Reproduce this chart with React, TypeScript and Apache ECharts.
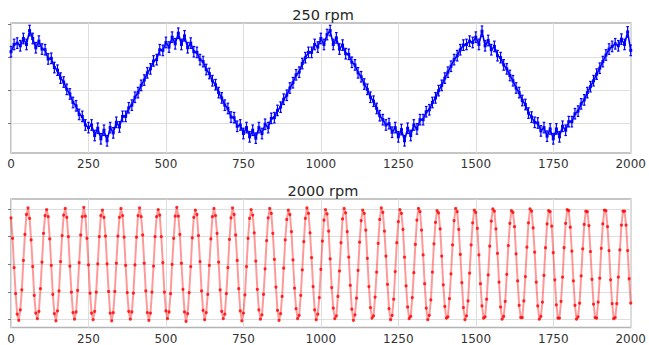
import React, { useEffect, useRef } from "react";
import * as echarts from "echarts";

// ---- data ----
const X_STEP_TOP = 10; // sample spacing (x units) of the 250 rpm trace
const X_STEP_BOTTOM = 5; // sample spacing (x units) of the 2000 rpm trace
const TOP_ERR = 0.08; // half-length of the error bars

const TOP_TITLE = "250 rpm";
const BOTTOM_TITLE = "2000 rpm";
const X_TICKS = [0, 250, 500, 750, 1000, 1250, 1500, 1750, 2000];
const TOP_Y_TICKS = [-0.5, 0, 0.5, 1];
const BOTTOM_Y_TICKS = [-1, -0.5, 0, 0.5, 1];

const TOP_VALUES = [
  0.58, 0.69, 0.71, 0.67, 0.78, 0.69, 0.90, 0.78, 0.64, 0.74,
  0.62, 0.61, 0.47, 0.48, 0.34, 0.30, 0.18, 0.12, 0.01, -0.06,
  -0.19, -0.24, -0.37, -0.40, -0.53, -0.57, -0.53, -0.69, -0.58, -0.74,
  -0.61, -0.77, -0.57, -0.65, -0.49, -0.56, -0.40, -0.40, -0.27, -0.23,
  -0.11, -0.04, 0.07, 0.15, 0.26, 0.32, 0.44, 0.46, 0.61, 0.60,
  0.72, 0.65, 0.80, 0.70, 0.86, 0.69, 0.82, 0.64, 0.71, 0.58,
  0.57, 0.46, 0.43, 0.31, 0.25, 0.14, 0.08, -0.04, -0.12, -0.23,
  -0.28, -0.41, -0.42, -0.55, -0.53, -0.66, -0.57, -0.71, -0.61, -0.73,
  -0.57, -0.66, -0.52, -0.57, -0.43, -0.42, -0.31, -0.26, -0.14, -0.08,
  0.03, 0.11, 0.23, 0.27, 0.40, 0.49, 0.57, 0.57, 0.69, 0.65,
  0.78, 0.69, 0.84, 0.90, 0.69, 0.79, 0.62, 0.68, 0.55, 0.54,
  0.42, 0.38, 0.26, 0.20, 0.09, 0.01, -0.11, -0.17, -0.28, -0.39,
  -0.45, -0.53, -0.51, -0.64, -0.57, -0.71, -0.60, -0.77, -0.58, -0.69,
  -0.53, -0.59, -0.45, -0.45, -0.33, -0.30, -0.19, -0.12, -0.01, 0.07,
  0.18, 0.27, 0.36, 0.46, 0.52, 0.61, 0.68, 0.69, 0.74, 0.72,
  0.80, 0.69, 0.89, 0.67, 0.75, 0.61, 0.66, 0.52, 0.49, 0.38,
  0.32, 0.22, 0.14, 0.03, -0.04, -0.16, -0.22, -0.35, -0.41, -0.49,
  -0.50, -0.62, -0.57, -0.70, -0.59, -0.74, -0.59, -0.71, -0.55, -0.61,
  -0.48, -0.48, -0.36, -0.32, -0.21, -0.15, -0.04, 0.05, 0.14, 0.24,
  0.33, 0.43, 0.53, 0.62, 0.66, 0.70, 0.67, 0.77, 0.69, 0.88,
  0.60,
];

const BOTTOM_VALUES = [
  0.84, 0.47, -0.06, -0.53, -0.90, -1.01, -0.82, -0.46, 0.07, 0.54, 0.90, 1.02,
  0.83, 0.44, -0.04, -0.56, -0.88, -0.98, -0.85, -0.44, 0.04, 0.56, 0.88, 0.99,
  0.86, 0.46, -0.02, -0.54, -0.89, -1.02, -0.84, -0.48, 0.05, 0.52, 0.89, 1.01,
  0.85, 0.50, -0.03, -0.50, -0.87, -0.99, -0.86, -0.47, 0.03, 0.53, 0.86, 1.03,
  0.87, 0.47, -0.01, -0.52, -0.88, -1.00, -0.85, -0.50, 0.01, 0.50, 0.88, 0.98,
  0.85, 0.51, 0.01, -0.49, -0.88, -1.02, -0.87, -0.49, 0.02, 0.51, 0.85, 1.01,
  0.88, 0.49, -0.02, -0.51, -0.85, -0.99, -0.86, -0.52, -0.01, 0.49, 0.88, 1.02,
  0.86, 0.53, 0.02, -0.48, -0.87, -1.01, -0.88, -0.50, -0.03, 0.50, 0.86, 0.99,
  0.89, 0.50, 0.03, -0.50, -0.84, -0.98, -0.86, -0.53, 0.00, 0.47, 0.87, 1.03,
  0.87, 0.54, 0.02, -0.45, -0.86, -1.03, -0.89, -0.51, -0.04, 0.48, 0.85, 0.98,
  0.90, 0.52, 0.05, -0.48, -0.83, -1.00, -0.87, -0.54, -0.02, 0.46, 0.86, 1.01,
  0.88, 0.56, 0.04, -0.46, -0.85, -0.98, -0.90, -0.53, -0.06, 0.45, 0.84, 1.02,
  0.90, 0.53, 0.07, -0.44, -0.84, -1.02, -0.88, -0.55, -0.04, 0.47, 0.83, 0.99,
  0.89, 0.57, 0.06, -0.45, -0.82, -0.99, -0.91, -0.54, -0.08, 0.43, 0.84, 1.01,
  0.92, 0.56, 0.09, -0.41, -0.83, -1.01, -0.89, -0.58, -0.07, 0.44, 0.81, 0.98,
  0.90, 0.59, 0.08, -0.43, -0.80, -0.98, -0.92, -0.56, -0.10, 0.41, 0.83, 1.02,
  0.92, 0.57, 0.12, -0.40, -0.82, -1.00, -0.90, -0.60, -0.09, 0.42, 0.80, 0.99,
  0.91, 0.60, 0.10, -0.42, -0.79, -0.98, -0.93, -0.58, -0.12, 0.39, 0.82, 1.01,
  0.93, 0.59, 0.13, -0.38, -0.81, -1.01, -0.91, -0.61, -0.11, 0.40, 0.79, 0.98,
  0.92, 0.62, 0.11, -0.40, -0.78, -0.97, -0.93, -0.59, -0.14, 0.38, 0.81, 1.02,
  0.94, 0.60, 0.15, -0.36, -0.80, -1.00, -0.92, -0.63, -0.13, 0.39, 0.77, 0.99,
  0.92, 0.63, 0.13, -0.39, -0.77, -0.98, -0.94, -0.60, -0.15, 0.36, 0.80, 1.01,
  0.95, 0.62, 0.17, -0.35, -0.79, -1.00, -0.92, -0.64, -0.14, 0.37, 0.76, 0.97,
  0.93, 0.64, 0.15, -0.37, -0.76, -0.97, -0.95, -0.62, -0.17, 0.35, 0.79, 1.01,
  0.95, 0.63, 0.18, -0.33, -0.78, -1.00, -0.93, -0.66, -0.16, 0.35, 0.75, 0.98,
  0.94, 0.65, 0.17, -0.35, -0.75, -0.97, -0.95, -0.63, -0.19, 0.33, 0.78, 1.00,
  0.96, 0.64, 0.20, -0.32, -0.77, -0.99, -0.94, -0.67, -0.18, 0.34, 0.74, 0.97,
  0.94, 0.68, 0.19, -0.30, -0.74, -0.96, -0.96, -0.66, -0.22, 0.31, 0.75, 1.00,
  0.96, 0.66, 0.22, -0.32, -0.75, -0.99, -0.94, -0.68, -0.20, 0.30, 0.73, 0.97,
  0.95, 0.69, 0.21, -0.28, -0.73, -0.97, -0.97, -0.67, -0.23, 0.30, 0.74, 0.99,
  0.97, 0.67, 0.24, -0.30, -0.74, -0.99, -0.95, -0.70, -0.21, 0.28, 0.72, 0.96,
  0.95, 0.70, 0.23, -0.27, -0.72, -0.96, -0.97, -0.68, -0.25, 0.29, 0.73, 0.98,
  0.97, 0.68, 0.25, -0.28, -0.71, -0.98, -0.96, -0.71, -0.23, 0.26, 0.71, 0.96,
  0.96, 0.71, 0.25, -0.26, -0.70,
];

const FONT = "DejaVu Sans";
const GRID_COLOR = "#dedede";
const FRAME_COLOR = "#b3b3b3";

function xAxisFor(gridIndex: number) {
  return {
    type: "value",
    gridIndex,
    min: X_TICKS[0],
    max: X_TICKS[X_TICKS.length - 1],
    interval: X_TICKS[1] - X_TICKS[0],
    axisLine: { show: false },
    axisTick: { show: false },
    axisLabel: {
      show: true,
      color: "#333",
      fontSize: 12,
      fontFamily: FONT,
      margin: 5,
      formatter: (v: number) => String(v),
    },
    splitLine: { show: true, lineStyle: { color: GRID_COLOR, width: 1 } },
  };
}

function yAxisFor(gridIndex: number, min: number, max: number, ticks: number[]) {
  return {
    type: "value",
    gridIndex,
    min,
    max,
    axisLine: { show: false },
    axisLabel: { show: false },
    splitLine: { show: false },
    axisTick: {
      show: true,
      customValues: ticks,
      length: 3,
      inside: false,
      lineStyle: { color: "#777", width: 1 },
    },
  };
}

function gridLines(ticks: number[]) {
  return {
    silent: true,
    z: 1,
    symbol: ["none", "none"],
    label: { show: false },
    emphasis: { disabled: true },
    lineStyle: { color: GRID_COLOR, width: 1, type: "solid" },
    data: ticks.map((t) => ({ yAxis: t })),
  };
}

export default function App() {
  const ref = useRef<HTMLDivElement>(null);

  useEffect(() => {
    if (!ref.current) return;
    const chart = echarts.init(ref.current, null, { renderer: "svg" });

    const topData = TOP_VALUES.map((v, i) => [i * X_STEP_TOP, v]);
    const topErr = TOP_VALUES.map((v, i) => [i * X_STEP_TOP, v, v - TOP_ERR, v + TOP_ERR]);
    const bottomData = BOTTOM_VALUES.map((v, i) => [i * X_STEP_BOTTOM, v]);

    const option: any = {
      animation: false,
      grid: [
        { left: 11, right: 14, top: 23, height: 130, show: true, borderColor: FRAME_COLOR, borderWidth: 1.5 },
        { left: 11, right: 14, top: 199, height: 128.5, show: true, borderColor: FRAME_COLOR, borderWidth: 1.5 },
      ],
      xAxis: [xAxisFor(0), xAxisFor(1)],
      yAxis: [
        yAxisFor(0, -0.955, 1.015, TOP_Y_TICKS),
        yAxisFor(1, -1.14, 1.18, BOTTOM_Y_TICKS),
      ],
      graphic: [
        {
          type: "text",
          x: 323,
          y: 15,
          style: {
            text: TOP_TITLE,
            fontSize: 14.5,
            fontFamily: FONT,
            fill: "#262626",
            textAlign: "center",
            textVerticalAlign: "middle",
          },
        },
        {
          type: "text",
          x: 323,
          y: 191,
          style: {
            text: BOTTOM_TITLE,
            fontSize: 14.5,
            fontFamily: FONT,
            fill: "#262626",
            textAlign: "center",
            textVerticalAlign: "middle",
          },
        },
      ],
      series: [
        {
          type: "custom",
          xAxisIndex: 0,
          yAxisIndex: 0,
          z: 2,
          silent: true,
          encode: { x: 0, y: [1, 2, 3] },
          data: topErr,
          renderItem: (params: any, api: any) => {
            const x = api.value(0);
            const lo = api.coord([x, api.value(2)]);
            const hi = api.coord([x, api.value(3)]);
            const style = { stroke: "#0000ff", lineWidth: 1.2 };
            return {
              type: "group",
              children: [
                { type: "line", shape: { x1: lo[0], y1: lo[1], x2: hi[0], y2: hi[1] }, style },
                { type: "line", shape: { x1: lo[0] - 1.3, y1: lo[1], x2: lo[0] + 1.3, y2: lo[1] }, style },
                { type: "line", shape: { x1: hi[0] - 1.3, y1: hi[1], x2: hi[0] + 1.3, y2: hi[1] }, style },
              ],
            };
          },
          markLine: gridLines(TOP_Y_TICKS.filter((t) => t < 1)),
        },
        {
          type: "line",
          xAxisIndex: 0,
          yAxisIndex: 0,
          z: 3,
          silent: true,
          data: topData,
          lineStyle: { color: "#0000ff", width: 1.6 },
          symbol: "rect",
          symbolSize: 3,
          itemStyle: { color: "#0000ff" },
        },
        {
          type: "line",
          xAxisIndex: 1,
          yAxisIndex: 1,
          z: 3,
          silent: true,
          data: bottomData,
          lineStyle: { color: "rgba(255,0,0,0.4)", width: 2 },
          symbol: "circle",
          symbolSize: 3.2,
          itemStyle: { color: "rgba(255,0,0,0.8)", borderWidth: 0 },
          markLine: gridLines(BOTTOM_Y_TICKS),
        },
      ],
    };

    chart.setOption(option);
    return () => chart.dispose();
  }, []);

  return (
    <div
      ref={ref}
      style={{ position: "absolute", left: 0, top: 0, width: 649, height: 345, background: "#fff" }}
    />
  );
}
